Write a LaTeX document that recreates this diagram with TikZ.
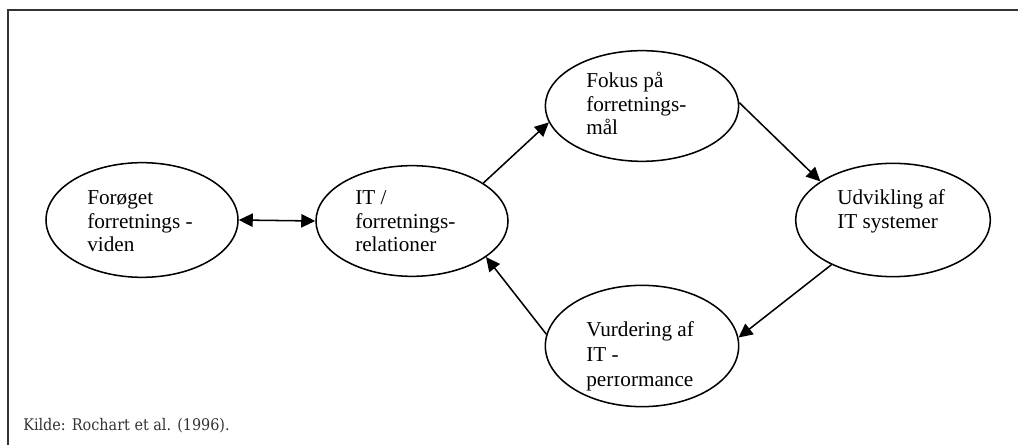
\documentclass[tikz,border=0pt]{standalone}
\usepackage{fontspec}
\setmainfont{Liberation Serif}
\newfontfamily\captionfont{DejaVu Serif Condensed}
\usetikzlibrary{arrows.meta,shapes.geometric}

\begin{document}
\begin{tikzpicture}[x=0.75pt,y=-0.75pt,
  bubble/.style={draw, ellipse, line width=1.15pt, inner sep=0pt},
  txt/.style={anchor=base west, inner sep=0pt, font=\fontsize{15.9}{17.6}\selectfont},
  link/.style={line width=1.15pt, -{Triangle[length=10.5pt,width=10pt]}},
  twoway/.style={line width=1.15pt, {Triangle[length=10.5pt,width=10pt]}-{Triangle[length=10.5pt,width=10pt]}},
  frameline/.style={line width=1pt, draw=black!80},
]
\useasboundingbox (0,0) rectangle (1018,445);

% frame
\coordinate (fbl) at (8,445);
\coordinate (ftl) at (8,10);
\coordinate (ftr) at (1018,10);
\draw[frameline] (fbl) -- (ftl) -- (ftr);

% ellipses
\node[bubble, minimum width=144pt, minimum height=86pt] (e1) at (142,220) {};
\node[bubble, minimum width=144pt, minimum height=83pt] (e2) at (412,221) {};
\node[bubble, minimum width=145pt, minimum height=83pt] (e3) at (642,106) {};
\node[bubble, minimum width=146pt, minimum height=85pt] (e4) at (893,220) {};
\node[bubble, minimum width=145pt, minimum height=91pt] (e5) at (642,346) {};

% texts
\node[txt] (t1) at (87,205) {\begin{tabular}[t]{@{}l@{}}Forøget\\forretnings -\\viden\end{tabular}};
\node[txt] (t2) at (355,205) {\begin{tabular}[t]{@{}l@{}}IT /\\forretnings-\\relationer\end{tabular}};
\node[txt] (t3) at (586,88) {\begin{tabular}[t]{@{}l@{}}Fokus på\\forretnings-\\mål\end{tabular}};
\node[txt] (t4) at (837,205) {\begin{tabular}[t]{@{}l@{}}Udvikling af\\IT systemer\end{tabular}};
\begin{scope}
  \clip (540,280) rectangle (745,367) (540,375.5) rectangle (745,405);
  \node[txt] (t5) at (586,337) {\renewcommand\arraystretch{1.05}\begin{tabular}[t]{@{}l@{}}Vurdering af\\IT -\\performance\end{tabular}};
\end{scope}

% connectors
\draw[twoway] (e1.east) -- (e2.west);
\draw[link] (e2.28) -- (e3.190);
\draw[link] (e3.2) -- (e4.152);
\draw[link] (e4.216) -- (e5.5);
\draw[link] (e5.173) -- (e2.334);

% source
\node[anchor=base west, inner sep=0pt, font=\captionfont\fontsize{12}{14}\selectfont, text=black!80] (src) at (23,431) {Kilde: Rochart et al. (1996).};
\end{tikzpicture}
\end{document}
